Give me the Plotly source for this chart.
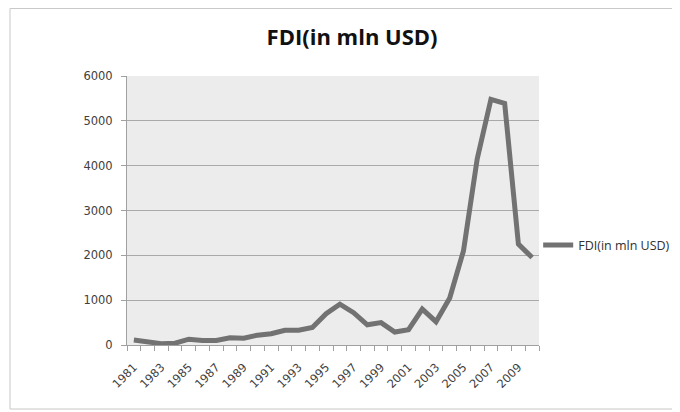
import plotly.graph_objects as go

years = list(range(1981, 2011))
fdi = [110, 60, 30, 40, 130, 100, 100, 160, 150, 220, 250, 330, 330, 390, 700,
       910, 720, 450, 500, 290, 340, 800, 520, 1050, 2100, 4150, 5480, 5390, 2250, 1950]
series_name = "FDI(in mln USD)"
title_text = "FDI(in mln USD)"
label_years = years[::2]

fig = go.Figure()
fig.add_trace(go.Scatter(
    x=years, y=fdi, mode="lines", name=series_name,
    line=dict(color="#727272", width=5),
))

# page has an 8px body margin, so the figure is offset by 8px
fig.update_layout(
    width=680, height=412,
    margin=dict(l=119, r=149, t=68, b=75, autoexpand=False),
    paper_bgcolor="white",
    plot_bgcolor="#ececec",
    font=dict(family="DejaVu Sans, sans-serif", color="#404040", size=11),
    title=dict(text="<b>" + title_text + "</b>", x=0.506, xanchor="center",
               y=0.93, yanchor="middle",
               font=dict(size=22, color="#111111", family="Open Sans, sans-serif")),
    showlegend=True,
    legend=dict(x=0.998, xanchor="left", y=0.37, yanchor="middle",
                font=dict(size=12.5, color="#303030", family="Open Sans, sans-serif"),
                bgcolor="rgba(0,0,0,0)", itemwidth=30),
    shapes=[dict(type="rect", xref="paper", yref="paper",
                 x0=-0.284, x1=1.40, y0=-0.238, y1=1.251,
                 line=dict(color="#c8c8c8", width=1), layer="below")],
)

fig.update_xaxes(
    range=[1980.5, 2010.5],
    tickvals=label_years, ticktext=[str(y) for y in label_years],
    tickangle=-45, ticks="", showgrid=False, zeroline=False,
    showline=True, linecolor="#a0a0a0", linewidth=1,
    minor=dict(ticks="outside", tick0=0.5, dtick=1, ticklen=5, tickcolor="#a0a0a0", showgrid=False),
    tickfont=dict(size=11.5, color="#404040"),
    ticklabelstandoff=10,
)
fig.update_yaxes(
    range=[0, 6000], dtick=1000, tick0=0,
    showgrid=True, gridcolor="#a9a9a9", gridwidth=1,
    zeroline=False, showline=True, linecolor="#a0a0a0", linewidth=1,
    ticks="outside", ticklen=5, tickcolor="#a0a0a0",
    tickfont=dict(size=11.5, color="#404040"),
    ticklabelstandoff=6,
)

fig.write_html("out.html")
